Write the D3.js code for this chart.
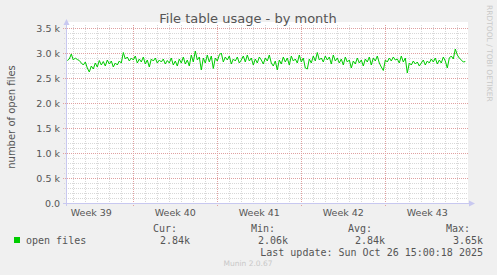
<!DOCTYPE html>
<html>
<head>
<meta charset="UTF-8">
<title>File table usage - by month</title>
<style>
  body { margin: 0; padding: 0; background: #f0f0f0; }
  svg { display: block; }
  text { font-family: "DejaVu Sans", sans-serif; }
  .mono { font-family: "DejaVu Sans Mono", monospace; }
</style>
</head>
<body>
<svg id="chart" width="497" height="275"></svg>
<script src="https://d3js.org/d3.v7.min.js"></script>
<script>
// open files, one value every 4 hours starting Tue Sep 23 2025 12:00
var openFiles = [
  2850, 2880, 2980, 2860, 2900, 2870, 2850, 2800, 2760, 2820,
  2700, 2620, 2740, 2680, 2800, 2720, 2850, 2760, 2830, 2740,
  2860, 2780, 2840, 2720, 2800, 2760, 2840, 2800, 3010, 2880,
  2920, 2840, 2900, 2860, 2940, 2800, 2880, 2820, 2920, 2780,
  2860, 2720, 2880, 2840, 2900, 2800, 2860, 2820, 2880, 2780,
  2850, 2800, 2900, 2760, 2840, 2740, 2880, 2800, 2920, 2780,
  2860, 2740, 2960, 2820, 3040, 2860, 2920, 2660, 2900, 2800,
  2960, 2820, 2940, 2690, 2900, 2840, 2960, 3000, 2820, 2920,
  2860, 2940, 2780, 2880, 2840, 2920, 2800, 2860, 2940, 2820,
  2960, 2840, 2900, 2760, 2880, 2800, 2920, 2860, 2780, 2900,
  2840, 2960, 2800, 2740, 2840, 2660, 2860, 2780, 2920, 2820,
  2900, 2760, 2940, 2840, 2880, 2800, 2960, 2820, 2900, 2700,
  2680, 2880, 2800, 2940, 2840, 3010, 2860, 2900, 2820, 2940,
  2860, 2920, 2780, 2960, 2840, 2900, 2800, 2880, 2760, 2920,
  2820, 2860, 2700, 2840, 2780, 2900, 2800, 2860, 2740, 2880,
  2820, 2920, 2760, 2900, 2840, 2940, 2800, 2720, 2650, 2860,
  2820, 2900, 2840, 2920, 2860, 2880, 2800, 2940, 2820, 2900,
  2600, 2800, 2760, 2840, 2780, 2820, 2740, 2800, 2860, 2760,
  2840, 2800, 2880, 2820, 2900, 2780, 2860, 2800, 2920, 2840,
  2700, 2900, 2940, 2880, 3080, 2960, 2900, 2860, 2820, 2830
];
var startTime = Date.UTC(2025, 8, 23, 12, 0);
var stepMs = 4 * 3600 * 1000;

var yMajorTicks = [0, 500, 1000, 1500, 2000, 2500, 3000, 3500];
var weekLabels = ["Week 39", "Week 40", "Week 41", "Week 42", "Week 43"];
var legendHeads = ["Cur:", "Min:", "Avg:", "Max:"];
var legendValues = ["2.84k", "2.06k", "2.84k", "3.65k"];

var svg = d3.select("#chart");
var pLeft = 66, pRight = 468, pTop = 28, pBottom = 203;

var x = d3.scaleUtc()
  .domain([new Date(Date.UTC(2025, 8, 23, 9, 24)), new Date(Date.UTC(2025, 9, 26, 21, 24))])
  .range([pLeft, pRight]);
var y = d3.scaleLinear().domain([0, 3500]).range([pBottom, pTop]);

// plot background
svg.append("rect").attr("x", pLeft).attr("y", pTop - 6).attr("width", pRight - pLeft).attr("height", pBottom - pTop + 6)
  .attr("fill", "#ffffff");

var grid = svg.append("g");

// minor grid
d3.range(0, 3501, 100).forEach(function(v) {
  if (v % 500 === 0) return;
  var yy = Math.round(y(v)) + 0.5;
  grid.append("line").attr("x1", pLeft - 2).attr("x2", pRight).attr("y1", yy).attr("y2", yy)
    .attr("stroke", "#d8d8d8").attr("stroke-dasharray", "1,1");
});
x.ticks(d3.utcDay.every(1)).forEach(function(d) {
  if (d.getUTCDay() === 1) return;
  var xx = Math.round(x(d)) + 0.5;
  grid.append("line").attr("x1", xx).attr("x2", xx).attr("y1", pTop - 3).attr("y2", pBottom + 2)
    .attr("stroke", "#d8d8d8").attr("stroke-dasharray", "1,1");
});

// major grid
yMajorTicks.forEach(function(v) {
  if (v === 0) return;
  var yy = Math.round(y(v)) + 0.5;
  grid.append("line").attr("x1", pLeft - 3).attr("x2", pRight).attr("y1", yy).attr("y2", yy)
    .attr("stroke", "#e0a0a0").attr("stroke-dasharray", "1,1");
});
var weekStarts = x.ticks(d3.utcMonday.every(1));
weekStarts.forEach(function(d) {
  var xx = Math.round(x(d)) + 0.5;
  grid.append("line").attr("x1", xx).attr("x2", xx).attr("y1", pTop - 3).attr("y2", pBottom + 3)
    .attr("stroke", "#e0a0a0").attr("stroke-dasharray", "1,1");
});

// axis lines with arrows
var axisCol = "#c8c8f0";
svg.append("line").attr("x1", pLeft + 0.5).attr("x2", pLeft + 0.5).attr("y1", pBottom + 3).attr("y2", pTop - 6)
  .attr("stroke", axisCol);
svg.append("path").attr("d", "M" + (pLeft - 2.5) + "," + (pTop - 3) + "L" + (pLeft + 0.5) + "," + (pTop - 9) + "L" + (pLeft + 3.5) + "," + (pTop - 3) + "Z")
  .attr("fill", axisCol);
svg.append("line").attr("x1", pLeft - 3).attr("x2", pRight + 2).attr("y1", pBottom + 0.5).attr("y2", pBottom + 0.5)
  .attr("stroke", axisCol);
svg.append("path").attr("d", "M" + (pRight + 1) + "," + (pBottom - 2.5) + "L" + (pRight + 7) + "," + (pBottom + 0.5) + "L" + (pRight + 1) + "," + (pBottom + 3.5) + "Z")
  .attr("fill", axisCol);

// y tick labels
var fmt = d3.format(".1f");
svg.append("g").selectAll("text").data(yMajorTicks).join("text")
  .attr("x", 60).attr("y", function(d) { return y(d) + 3.5; })
  .attr("text-anchor", "end").attr("font-size", "9.5px").attr("fill", "#555")
  .text(function(d) { return d === 0 ? "0.0" : fmt(d / 1000) + " k"; });

// x labels, centred on each week
svg.append("g").selectAll("text").data(weekLabels).join("text")
  .attr("x", function(d, i) {
    var s = d3.utcMonday.offset(weekStarts[0], i - 1);
    return x(d3.utcHour.offset(s, 84));
  })
  .attr("y", 216).attr("text-anchor", "middle").attr("font-size", "9.5px").attr("fill", "#555")
  .text(function(d) { return d; });

// series
var line = d3.line()
  .x(function(d, i) { return x(new Date(startTime + i * stepMs)); })
  .y(function(d) { return y(d); });
svg.append("path").datum(openFiles).attr("d", line)
  .attr("fill", "none").attr("stroke", "#00cc00").attr("stroke-width", 1);

// title and labels
svg.append("text").attr("x", 248).attr("y", 23).attr("text-anchor", "middle")
  .attr("font-size", "13px").attr("fill", "#555").text("File table usage - by month");
svg.append("text").attr("transform", "translate(15,117) rotate(-90)").attr("text-anchor", "middle")
  .attr("font-size", "10px").attr("fill", "#555").text("number of open files");
svg.append("text").attr("transform", "translate(487,5) rotate(90)").attr("text-anchor", "start")
  .attr("font-size", "7.5px").attr("fill", "#c8c8c8").text("RRDTOOL / TOBI OETIKER");

// legend
svg.append("rect").attr("x", 14).attr("y", 237).attr("width", 6).attr("height", 6).attr("fill", "#00cc00");
svg.append("text").attr("class", "mono").attr("x", 26).attr("y", 243.5)
  .attr("font-size", "10px").attr("fill", "#555").text("open files");
var headX = [177, 275, 372, 470];
var valX = [190, 288, 385, 483];
svg.append("g").selectAll("text").data(legendHeads).join("text")
  .attr("class", "mono").attr("x", function(d, i) { return headX[i]; }).attr("y", 231.5)
  .attr("text-anchor", "end").attr("font-size", "10px").attr("fill", "#555").text(function(d) { return d; });
svg.append("g").selectAll("text").data(legendValues).join("text")
  .attr("class", "mono").attr("x", function(d, i) { return valX[i]; }).attr("y", 243.5)
  .attr("text-anchor", "end").attr("font-size", "10px").attr("fill", "#555").text(function(d) { return d; });
svg.append("text").attr("class", "mono").attr("x", 483).attr("y", 255.5).attr("text-anchor", "end")
  .attr("font-size", "10px").attr("fill", "#555").text("Last update: Sun Oct 26 15:00:18 2025");
svg.append("text").attr("x", 248).attr("y", 265.5).attr("text-anchor", "middle")
  .attr("font-size", "7.5px").attr("fill", "#c8c8c8").text("Munin 2.0.67");
</script>
</body>
</html>
